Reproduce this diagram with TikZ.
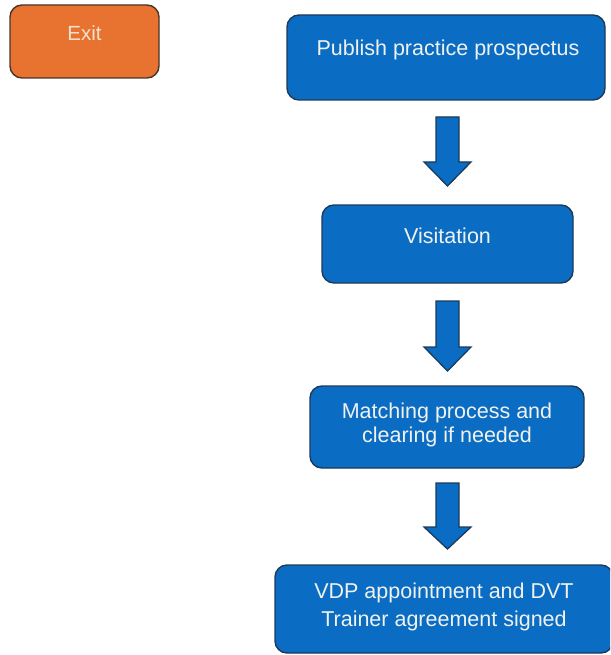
\documentclass[tikz,border=0pt]{standalone}
\usepackage{fontspec}
\setmainfont{Liberation Sans}
\definecolor{boxblue}{HTML}{0A6CC2}
\definecolor{boxedge}{HTML}{1B3A5C}
\definecolor{exitorange}{HTML}{E8722F}
\definecolor{exitedge}{HTML}{4A3528}
\definecolor{txtwhite}{HTML}{F0F2F0}
\definecolor{txtcream}{HTML}{F6E2CC}
\begin{document}
\begin{tikzpicture}[x=1pt,y=-1pt,
  bluebox/.style={draw=boxedge, fill=boxblue, line width=1.4pt, rounded corners=12pt, inner sep=0pt},
  exitbox/.style={draw=exitedge, fill=exitorange, line width=1.4pt, rounded corners=12pt, inner sep=0pt},
  btext/.style={text=txtwhite, font=\fontsize{21.5}{24}\selectfont, align=center, inner sep=0pt},
  etext/.style={text=txtcream, font=\fontsize{20.5}{26}\selectfont, inner sep=0pt},
  blockarrow/.style={draw=boxedge, fill=boxblue, line width=1.3pt, line join=miter}
]
\useasboundingbox (0,0) rectangle (610,655);
\begin{scope}
\clip (0,0) rectangle (610,655);
% Exit
\node[exitbox, minimum width=149pt, minimum height=73pt] (exit) at (84.5,41.5) {};
\node[etext] (exittxt) at (84.5,33) {Exit};
% Box 1
\node[bluebox, minimum width=318pt, minimum height=85pt] (b1) at (446,57.5) {};
\node[btext] (t1) at (448,50) {Publish practice prospectus};
% Box 2
\node[bluebox, minimum width=251pt, minimum height=78pt] (b2) at (447.5,244) {};
\node[btext] (t2) at (447.5,236) {Visitation};
% Box 3
\node[bluebox, minimum width=274pt, minimum height=82pt] (b3) at (447,427) {};
\node[btext] (t3) at (447,425) {Matching process and\\clearing if needed};
% Box 4
\node[bluebox, minimum width=338pt, minimum height=88pt] (b4) at (444,609) {};
\node[btext, font=\fontsize{21.5}{28}\selectfont] (t4) at (444,607) {VDP appointment and DVT\\Trainer agreement signed};
% Block arrows
\coordinate (a1) at (447.5,117);
\coordinate (a2) at (447.5,301);
\coordinate (a3) at (447.5,483);
\draw[blockarrow] (a1) ++(-11.5,0) -- ++(0,45) -- ++(-12,0) -- (447.5,186) -- (471,162) -- ++(-12,0) -- ++(0,-45) -- cycle;
\draw[blockarrow] (a2) ++(-11.5,0) -- ++(0,46) -- ++(-12,0) -- (447.5,371) -- (471,347) -- ++(-12,0) -- ++(0,-46) -- cycle;
\draw[blockarrow] (a3) ++(-11.5,0) -- ++(0,44) -- ++(-12,0) -- (447.5,549) -- (471,527) -- ++(-12,0) -- ++(0,-44) -- cycle;
\end{scope}
\end{tikzpicture}
\end{document}
